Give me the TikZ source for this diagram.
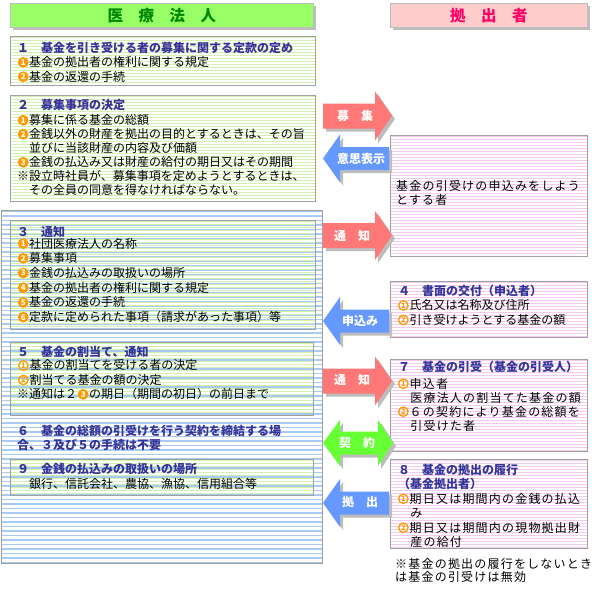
\documentclass[tikz,border=0pt]{standalone}
\usepackage{fontspec}
\setmainfont{Noto Sans CJK JP}
\usepackage{tikz}
\usetikzlibrary{positioning,shadows}

\definecolor{headgreen}{HTML}{99FF66}
\definecolor{headgreentext}{HTML}{008800}
\definecolor{headpink}{HTML}{FFCCCC}
\definecolor{headpinktext}{HTML}{FF0066}
\definecolor{stripegreen}{HTML}{D2F2B0}
\definecolor{stripeblue}{HTML}{A8CAF2}
\definecolor{stripepink}{HTML}{F4CAF0}
\definecolor{boxgray}{HTML}{A0A0A0}
\definecolor{shadowgray}{HTML}{BDBDBD}
\definecolor{titlenavy}{HTML}{333399}
\definecolor{maruorange}{HTML}{FF9900}
\definecolor{redfill}{HTML}{FF7777}
\definecolor{bluefill}{HTML}{6699FF}
\definecolor{greenfill}{HTML}{66FF33}

% circled numbers: filled and outlined
\newcommand{\maru}[1]{\hspace{0.6pt}\tikz[baseline={([yshift=-1.6pt]m.base)}]\node[circle,fill=maruorange,text=white,inner sep=0pt,minimum size=10.8pt,font=\fontsize{8}{8}\selectfont\bfseries] (m) {#1};\hspace{0.6pt}}
\newcommand{\maruo}[1]{\hspace{0.8pt}\tikz[baseline={([yshift=-1.6pt]m.base)}]\node[circle,draw=maruorange,line width=1.3pt,text=maruorange,inner sep=0pt,minimum size=9.4pt,font=\fontsize{7.5}{7.5}\selectfont\bfseries] (m) {#1};\hspace{1pt}}

\tikzset{
  stripes/.style n args={3}{path picture={
    \foreach \k in {0,...,150}
      \draw[#1,line width=#3] ([yshift=-#2*\k*1pt-1pt]path picture bounding box.north west) -- ([yshift=-#2*\k*1pt-1pt]path picture bounding box.north east);}},
  boxbase/.style={rectangle,anchor=north west,draw=boxgray,line width=0.8pt,inner sep=0pt},
  greenbox/.style={boxbase,stripes={stripegreen}{3}{1.3pt}},
  pinkbox/.style={boxbase,stripes={stripepink}{3}{1.2pt}},
  bluebox/.style={boxbase,stripes={stripeblue}{4.5}{1.6pt}},
  headbox/.style={rectangle,anchor=north west,inner sep=0pt,draw=shadowgray,line width=0.6pt,
    drop shadow={shadow xshift=3pt,shadow yshift=-3pt,fill=shadowgray,opacity=1},
    font=\fontsize{15.5}{15.5}\selectfont\bfseries},
  txt/.style={anchor=north west,inner sep=0pt,align=left,font=\fontsize{12}{14.5}\selectfont},
  ttl/.style={txt,text=titlenavy,font=\fontsize{12}{14.5}\selectfont\bfseries},
  widetxt/.style={txt,font=\fontsize{12}{14}\selectfont\addfontfeature{LetterSpace=10}},
  arrowtxt/.style={text=white,inner sep=0pt,font=\fontsize{12}{12}\selectfont\bfseries},
  pics/rightarrow/.style={code={
    \foreach \c/\d in {shadowgray/3,#1/0}
      \fill[\c,shift={(\d,\d)}] (323,-12.5) -- (375,-12.5) -- (375,-24.5) -- (392,0) -- (375,24.5) -- (375,12.5) -- (323,12.5) -- cycle;}},
  pics/leftarrow/.style={code={
    \foreach \c/\d in {shadowgray/3,#1/0}
      \fill[\c,shift={(\d,\d)}] (323,0) -- (340,-24) -- (340,-11.5) -- (389,-11.5) -- (389,11.5) -- (340,11.5) -- (340,24) -- cycle;}},
  pics/botharrow/.style={code={
    \foreach \c/\d in {shadowgray/3,#1/0}
      \fill[\c,shift={(\d,\d)}] (323,0) -- (340,-23) -- (340,-11.5) -- (378,-11.5) -- (378,-23) -- (393,0) -- (378,23) -- (378,11.5) -- (340,11.5) -- (340,23) -- cycle;}}
}

\begin{document}
\begin{tikzpicture}[x=1pt,y=-1pt]
\useasboundingbox (0,0) rectangle (592,589);
% headers
\node[headbox,fill=headgreen,text=headgreentext,minimum width=303,minimum height=24] (hdL) at (10,3) {医　療　法　人};
\node[headbox,fill=headpink,text=headpinktext,minimum width=197,minimum height=24] (hdR) at (390,3) {拠　出　者};

% left column
\node[greenbox,minimum width=305,minimum height=49] (b1) at (10,36) {};
\node[ttl] (t1) at (17,41.5) {１　基金を引き受ける者の募集に関する定款の定め};
\node[txt] (s1) at (17,56.5) {\maru{1}基金の拠出者の権利に関する規定\\\maru{2}基金の返還の手続};

\node[greenbox,minimum width=305,minimum height=106] (b2) at (10,95) {};
\node[ttl] (t2) at (17,99.5) {２　募集事項の決定};
\node[txt,font=\fontsize{12}{14}\selectfont] (s2) at (17,114.5) {\maru{1}募集に係る基金の総額\\\maru{2}金銭以外の財産を拠出の目的とするときは、その旨\\　並びに当該財産の内容及び価額\\\maru{3}金銭の払込み又は財産の給付の期日又はその期間\\※設立時社員が、募集事項を定めようとするときは、\\　その全員の同意を得なければならない。};

\node[bluebox,minimum width=321,minimum height=353] (rg) at (1,210) {};

\node[greenbox,minimum width=305,minimum height=109] (b3) at (10,220) {};
\node[ttl] (t3) at (17,226.5) {３　通知};
\node[txt,font=\fontsize{12}{14.7}\selectfont] (s3) at (17,237.8) {\maru{1}社団医療法人の名称\\\maru{2}募集事項\\\maru{3}金銭の払込みの取扱いの場所\\\maru{4}基金の拠出者の権利に関する規定\\\maru{5}基金の返還の手続\\\maru{6}定款に定められた事項（請求があった事項）等};

\node[greenbox,minimum width=303,minimum height=73] (b5) at (10,342) {};
\node[ttl] (t5) at (17,346.2) {５　基金の割当て、通知};
\node[txt] (s5) at (17,359.5) {\maruo{1}基金の割当てを受ける者の決定\\\maruo{2}割当てる基金の額の決定\\※通知は２\maru{3}の期日（期間の初日）の前日まで};

\node[ttl] (t6) at (17,424.5) {６　基金の総額の引受けを行う契約を締結する場\\合、３及び５の手続は不要};

\node[greenbox,minimum width=303,minimum height=36] (b9) at (10,459) {};
\node[ttl] (t9) at (17,462.8) {９　金銭の払込みの取扱いの場所};
\node[txt] (s9) at (17,477.8) {　銀行、信託会社、農協、漁協、信用組合等};

% right column
\node[pinkbox,minimum width=197,minimum height=121] (bA) at (390,135) {};
\node[widetxt] (sA) at (396,180.5) {基金の引受けの申込みをしよう\\とする者};

\node[pinkbox,minimum width=197,minimum height=56] (b4) at (390,281) {};
\node[ttl] (t4) at (398,284.5) {４　書面の交付（申込者）};
\node[txt] (s4) at (397,299.5) {\maruo{1}氏名又は名称及び住所\\\maruo{2}引き受けようとする基金の額};

\node[pinkbox,minimum width=197,minimum height=92] (b7) at (390,359) {};
\node[ttl] (t7) at (398,361.2) {７　基金の引受（基金の引受人）};
\node[widetxt] (s7) at (397,377.8) {\maruo{1}申込者\\　医療法人の割当てた基金の額\\\maruo{2}６の契約により基金の総額を\\　引受けた者};

\node[pinkbox,minimum width=197,minimum height=89] (b8) at (390,459) {};
\node[ttl,font=\fontsize{12}{14}\selectfont\bfseries] (t8) at (398,463.8) {８　基金の拠出の履行\\（基金拠出者）};
\node[widetxt,font=\fontsize{12}{14.5}\selectfont\addfontfeature{LetterSpace=10}] (s8) at (397,492.8) {\maruo{1}期日又は期間内の金銭の払込\\　み\\\maruo{2}期日又は期間内の現物拠出財\\　産の給付};

\node[widetxt,font=\fontsize{12}{13.5}\selectfont\addfontfeature{LetterSpace=10}] (note) at (395,557.8) {※基金の拠出の履行をしないとき\\は基金の引受けは無効};

% block arrows
\pic at (0,116) {rightarrow=redfill};
\node[arrowtxt] (boshu) at (355,116) {募　集};
\pic at (0,158.5) {leftarrow=bluefill};
\node[arrowtxt] (ishi) at (361,158.5) {意思表示};
\pic at (0,235.5) {rightarrow=redfill};
\node[arrowtxt] (tsuchiA) at (352,235.5) {通　知};
\pic at (0,321) {leftarrow=bluefill};
\node[arrowtxt] (moushikomi) at (360,321) {申込み};
\pic at (0,381) {rightarrow=redfill};
\node[arrowtxt] (tsuchiB) at (352,380) {通　知};
\pic at (0,443) {botharrow=greenfill};
\node[arrowtxt] (keiyaku) at (357,443) {契　約};
\pic at (0,503) {leftarrow=bluefill};
\node[arrowtxt] (kyoshutsu) at (360,502) {拠　出};
\end{tikzpicture}
\end{document}
